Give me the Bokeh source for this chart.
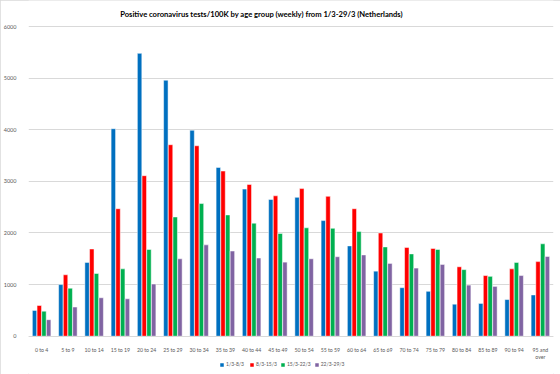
from bokeh.plotting import figure
from bokeh.models import (FactorRange, Range1d, Legend, LegendItem, Label,
                          ColumnDataSource, SingleIntervalTicker, CategoricalAxis)
from bokeh.transform import dodge
from bokeh.embed import file_html
from bokeh.resources import INLINE

title_text = "Positive coronavirus tests/100K by age group (weekly) from 1/3-29/3 (Netherlands)"

age_groups = ["0 to 4", "5 to 9", "10 to 14", "15 to 19", "20 to 24",
              "25 to 29", "30 to 34", "35 to 39", "40 to 44", "45 to 49",
              "50 to 54", "55 to 59", "60 to 64", "65 to 69", "70 to 74",
              "75 to 79", "80 to 84", "85 to 89", "90 to 94", "95 and\nover"]

week_1_8 = [500, 1000, 1430, 4020, 5480, 4960, 3990, 3270, 2850, 2650,
            2690, 2240, 1750, 1260, 940, 870, 620, 635, 710, 800]
week_8_15 = [595, 1190, 1690, 2470, 3110, 3710, 3690, 3200, 2940, 2720,
             2860, 2710, 2470, 2000, 1720, 1700, 1345, 1175, 1305, 1445]
week_15_22 = [485, 930, 1215, 1305, 1680, 2310, 2570, 2350, 2190, 1990,
              2100, 2090, 2030, 1730, 1595, 1680, 1290, 1160, 1430, 1790]
week_22_29 = [320, 565, 745, 725, 1010, 1500, 1770, 1650, 1515, 1435,
              1500, 1540, 1575, 1410, 1320, 1390, 990, 965, 1175, 1545]

series_labels = ["1/3-8/3", "8/3-15/3", "15/3-22/3", "22/3-29/3"]
colors = ["#0070C0", "#FF0000", "#00B050", "#8064A2"]

src = ColumnDataSource(dict(age=age_groups, w1=week_1_8, w2=week_8_15,
                            w3=week_15_22, w4=week_22_29))

p = figure(x_range=FactorRange(factors=age_groups, range_padding=0),
           y_range=Range1d(-742, 6504), width=560, height=374,
           output_backend="svg", toolbar_location=None, title=None,
           x_axis_location=None,
           min_border_left=22, min_border_right=7, min_border_top=0,
           min_border_bottom=0)
p.styles = {"outline": "1px solid #D9D9D9", "outline-offset": "-1px"}

offsets = [-0.268, -0.089, 0.089, 0.268]
cols = ["w1", "w2", "w3", "w4"]
renderers = []
for off, col, c in zip(offsets, cols, colors):
    r = p.vbar(x=dodge("age", off, range=p.x_range), top=col, bottom=0,
               width=0.17, source=src, fill_color=c, line_color="white",
               line_width=0.5)
    renderers.append(r)

p.outline_line_color = None
p.xgrid.grid_line_color = None
p.ygrid.grid_line_color = "#D9D9D9"
p.ygrid.grid_line_width = 1

p.yaxis.ticker = SingleIntervalTicker(interval=1000, num_minor_ticks=0)
p.yaxis.axis_line_color = None
p.yaxis.major_tick_line_color = None
p.yaxis.minor_tick_line_color = None
p.yaxis.major_label_text_font = "Lato"
p.yaxis.major_label_text_font_size = "5.5px"
p.yaxis.major_label_text_color = "#595959"
p.yaxis.major_label_standoff = 6

xaxis = CategoricalAxis(fixed_location=0)
xaxis.axis_line_color = "#D9D9D9"
xaxis.major_tick_line_color = None
xaxis.minor_tick_line_color = None
xaxis.major_label_text_font = "Lato"
xaxis.major_label_text_font_size = "5.2px"
xaxis.major_label_text_color = "#595959"
xaxis.major_label_standoff = 5
p.add_layout(xaxis, "below")

title = Label(x=233, y=360.5, x_units="screen", y_units="screen",
              text=title_text, text_align="center",
              text_baseline="alphabetic", text_font="Lato",
              text_font_size="7.6px", text_font_style="bold",
              text_color="#000000")
p.add_layout(title)

legend = Legend(items=[LegendItem(label=l, renderers=[r])
                       for l, r in zip(series_labels, renderers)],
                orientation="horizontal", location=(191, 7),
                glyph_width=5, glyph_height=5, label_standoff=2, spacing=3,
                padding=0, margin=0, border_line_color=None,
                background_fill_alpha=0,
                label_text_font="Lato", label_text_font_size="5px",
                label_text_color="#595959", label_height=6)
p.add_layout(legend)

open("out.html", "w").write(file_html(p, INLINE))
